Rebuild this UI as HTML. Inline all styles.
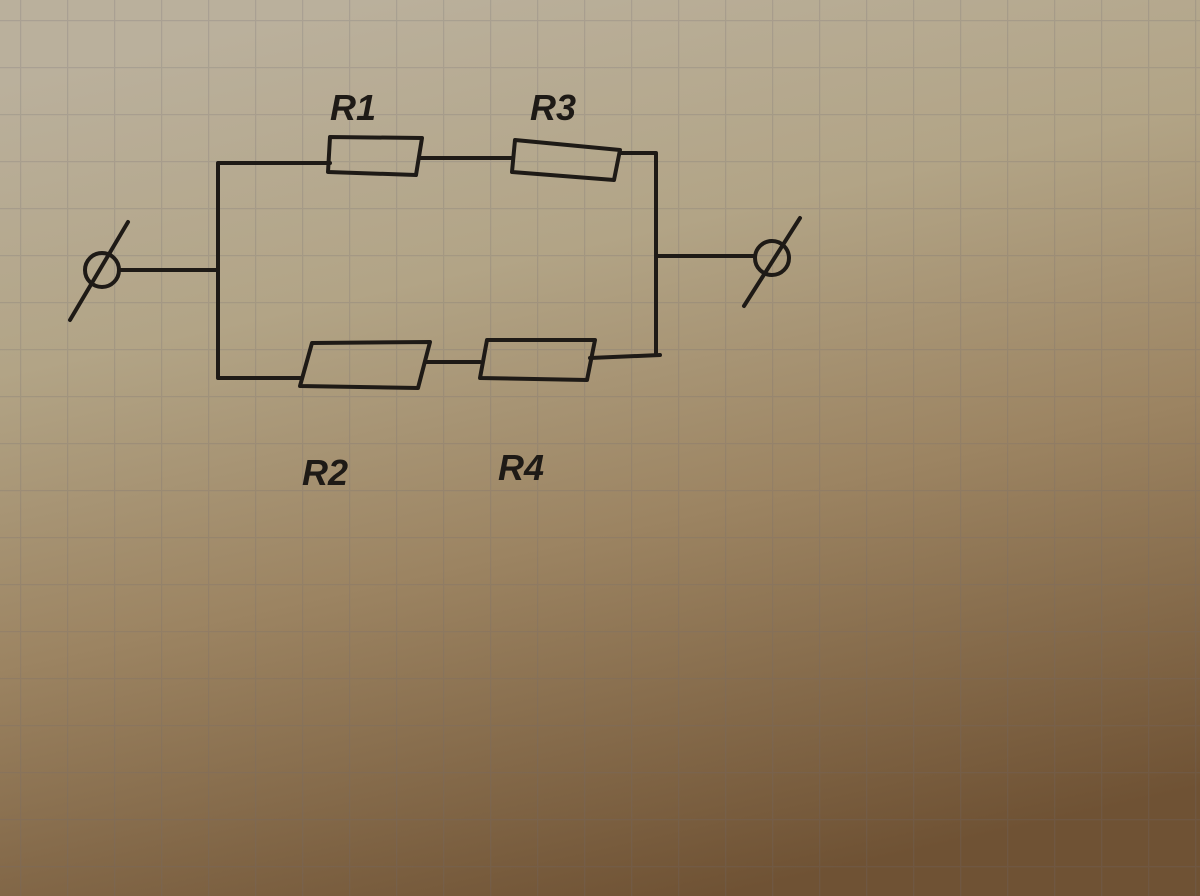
<!DOCTYPE html>
<html><head><meta charset="utf-8"><style>
html,body{margin:0;padding:0;width:1200px;height:896px;overflow:hidden}
</style></head><body>
<svg width="1200" height="896" viewBox="0 0 1200 896" xmlns="http://www.w3.org/2000/svg">
<defs>
<linearGradient id="bg" x1="0.3" y1="0" x2="0.6" y2="1">
<stop offset="0" stop-color="#bab09c"/>
<stop offset="0.3" stop-color="#b2a486"/>
<stop offset="0.6" stop-color="#9c8462"/>
<stop offset="1" stop-color="#6f5234"/>
</linearGradient>
<pattern id="grid" width="47" height="47" patternUnits="userSpaceOnUse" x="20" y="20">
<path d="M0 0H47M0 0V47" stroke="#6e6870" stroke-opacity="0.22" stroke-width="2.5" fill="none"/>
</pattern>
</defs>
<rect width="1200" height="896" fill="url(#bg)"/>
<rect width="1200" height="896" fill="url(#grid)"/>
<g stroke="#1e1a16" stroke-width="4" fill="none" stroke-linecap="round" stroke-linejoin="round">
<path d="M218 270 V163 H330"/>
<path d="M330 137 L422 138 L416 175 L328 172 Z"/>
<path d="M420 158 H512"/>
<path d="M515 140 L620 150 L614 180 L512 172 Z"/>
<path d="M620 153 H656 V355"/>
<path d="M218 270 V378 H300"/>
<path d="M312 343 L430 342 L418 388 L300 386 Z"/>
<path d="M425 362 H480"/>
<path d="M487 340 L595 340 L587 380 L480 378 Z"/>
<path d="M590 358 L660 355"/>
<path d="M120 270 H218"/>
<circle cx="102" cy="270" r="17"/>
<path d="M70 320 L128 222"/>
<path d="M658 256 H755"/>
<circle cx="772" cy="258" r="17"/>
<path d="M744 306 L800 218"/>
</g>
<g font-family="Liberation Sans, sans-serif" font-style="italic" font-weight="bold" font-size="36" fill="#1e1a16">
<text x="330" y="120">R1</text>
<text x="530" y="120">R3</text>
<text x="302" y="485">R2</text>
<text x="498" y="480">R4</text>
</g>
</svg>
</body></html>
